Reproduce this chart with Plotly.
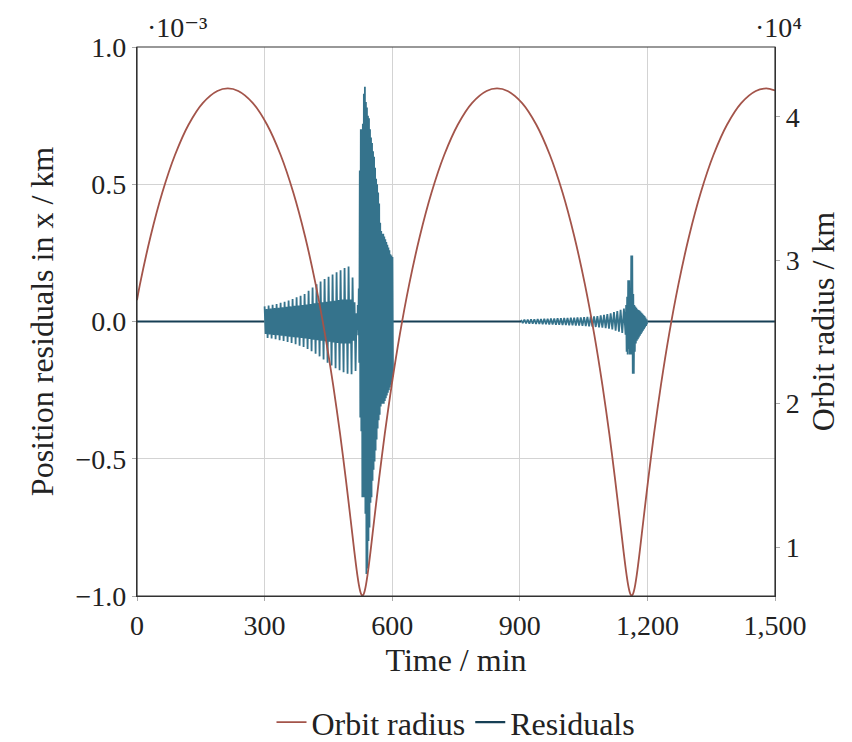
import plotly.graph_objects as go

# ---------------- data ----------------
# Orbit radius (km)
orbit_t = [0, 6.92, 31.81, 59.35, 89.26, 121.14, 154.53, 188.90, 213.5,
           238.1, 272.47, 305.86, 337.74, 367.65, 395.19, 420.08, 442.12, 461.22,
           477.46, 490.97, 502.02, 510.96, 514.79, 518.26, 521.45, 524.42, 527.25, 530,
           532.75, 535.58, 538.55, 541.74, 545.21, 549.04, 557.98, 569.03, 582.54,
           598.78, 617.88, 639.92, 664.81, 692.35, 722.26, 754.14, 787.53, 821.90, 846.5,
           871.1, 905.47, 938.86, 970.74, 1000.65, 1028.19, 1053.08, 1075.12, 1094.22,
           1110.46, 1123.97, 1135.02, 1143.96, 1147.79, 1151.26, 1154.45, 1157.42, 1160.25, 1163,
           1165.75, 1168.58, 1171.55, 1174.74, 1178.21, 1182.04, 1190.98, 1202.03, 1215.54,
           1231.78, 1250.88, 1272.92, 1297.81, 1325.35, 1355.26, 1387.14, 1420.53, 1454.90,
           1479.5, 1500]
orbit_r = [27220, 28319, 31661, 34711, 37345, 39459, 40968, 41813, 41990,
           41813, 40968, 39459, 37345, 34711, 31661, 28319, 24817, 21293,
           17889, 14742, 11975, 9700, 8775, 8005, 7400, 6962, 6697, 6610,
           6697, 6962, 7400, 8005, 8775, 9700, 11975, 14742, 17889,
           21293, 24817, 28319, 31661, 34711, 37345, 39459, 40968, 41813, 41990,
           41813, 40968, 39459, 37345, 34711, 31661, 28319, 24817, 21293,
           17889, 14742, 11975, 9700, 8775, 8005, 7400, 6962, 6697, 6610,
           6697, 6962, 7400, 8005, 8775, 9700, 11975, 14742, 17889,
           21293, 24817, 28319, 31661, 34711, 37345, 39459, 40968, 41813,
           41990, 41845]

# Residuals (units of 1e-3 km), sampled bursts: (start time, sample step, values)
burst1_start, burst1_step = 300.0, 2.35
burst1_vals = [
    0.055, -0.045, 0.045, -0.060, 0.058, -0.047, 0.047, -0.062,
    0.061, -0.049, 0.049, -0.065, 0.064, -0.050, 0.050, -0.068,
    0.068, -0.052, 0.052, -0.071, 0.072, -0.054, 0.054, -0.075,
    0.076, -0.055, 0.055, -0.078, 0.082, -0.057, 0.057, -0.083,
    0.088, -0.058, 0.058, -0.088, 0.094, -0.060, 0.060, -0.093,
    0.100, -0.062, 0.062, -0.100, 0.112, -0.064, 0.064, -0.108,
    0.124, -0.066, 0.066, -0.117, 0.136, -0.068, 0.068, -0.127,
    0.146, -0.070, 0.070, -0.138, 0.155, -0.072, 0.072, -0.150,
    0.163, -0.074, 0.074, -0.160, 0.171, -0.076, 0.076, -0.170,
    0.179, -0.078, 0.078, -0.178, 0.187, -0.080, 0.080, -0.185,
    0.195, -0.080, 0.080, -0.190, 0.200, -0.080, 0.080, -0.192,
    0.160, -0.070, 0.070, -0.180, 0.030, -0.030]

burst2_start, burst2_step = 519.0, 1.2
burst2_vals = [
    0.06, -0.05, 0.12, -0.15, 0.55, -0.35, 0.70, -0.40, 0.70, -0.64,
    0.72, -0.64, 0.83, -0.64, 0.855, -0.70, 0.80, -0.92, 0.78, -0.90,
    0.75, -0.80, 0.74, -0.75, 0.70, -0.66, 0.67, -0.64, 0.65, -0.58,
    0.62, -0.54, 0.60, -0.51, 0.56, -0.47, 0.52, -0.43, 0.50, -0.39,
    0.47, -0.36, 0.43, -0.34, 0.36, -0.31, 0.33, -0.30, 0.32, -0.30,
    0.32, -0.30, 0.31, -0.29, 0.30, -0.28, 0.29, -0.27, 0.28, -0.26,
    0.27, -0.25, 0.26, -0.24, 0.245, -0.23, 0.24, -0.22, 0.235, -0.20]

burst3_start, burst3_step = 903.0, 3.9
burst3_vals = [
    0.006, -0.006, 0.007, -0.007, 0.007, -0.008, 0.008, -0.008,
    0.008, -0.009, 0.009, -0.009, 0.009, -0.010, 0.010, -0.010,
    0.010, -0.011, 0.011, -0.011, 0.011, -0.012, 0.012, -0.012,
    0.012, -0.013, 0.013, -0.013, 0.013, -0.014, 0.014, -0.014,
    0.014, -0.015, 0.015, -0.015, 0.015, -0.016, 0.016, -0.017,
    0.017, -0.018, 0.018, -0.019, 0.019, -0.020, 0.020, -0.021,
    0.022, -0.022, 0.024, -0.024, 0.027, -0.026, 0.030, -0.029,
    0.034, -0.033, 0.038, -0.037, 0.043, -0.042, 0.047, -0.048]

burst4_start, burst4_step = 1150.0, 1.2
burst4_vals = [
    0.060, -0.110, 0.090, -0.120, 0.150, -0.100, 0.150, -0.120,
    0.120, -0.120, 0.240, -0.120, 0.240, -0.190, 0.100, -0.190,
    0.060, -0.110, 0.055, -0.080, 0.050, -0.070, 0.045, -0.065,
    0.042, -0.058, 0.040, -0.052, 0.036, -0.046, 0.032, -0.040,
    0.028, -0.034, 0.024, -0.028, 0.020, -0.022, 0.014, -0.016,
    0.008, -0.010]

# quiet (near-zero) stretches of the residuals
quiet_t = [0, 300, None, 601, 903, None, 1199.5, 1500]
quiet_v = [0, 0, None, 0, 0, None, 0, 0]

x_ticks = [0, 300, 600, 900, 1200, 1500]
x_ticktext = ["0", "300", "600", "900", "1,200", "1,500"]
y_ticks = [-1.0, -0.5, 0.0, 0.5, 1.0]
y_ticktext = ["\u22121.0", "\u22120.5", "0.0", "0.5", "1.0"]
r_ticks = [10000, 20000, 30000, 40000]
r_ticktext = ["1", "2", "3", "4"]

# ---------------- build ----------------
def segment(start, step, vals):
    return [start + step * i for i in range(len(vals))], list(vals)

bx, by = [], []
for i, (s, st, v) in enumerate([(burst1_start, burst1_step, burst1_vals),
                                 (burst2_start, burst2_step, burst2_vals),
                                 (burst3_start, burst3_step, burst3_vals),
                                 (burst4_start, burst4_step, burst4_vals)]):
    xs, ys = segment(s, st, v)
    if i == 2:
        bx.append(None); by.append(None)
    bx += xs; by += ys

FONT = "Liberation Serif, DejaVu Serif, serif"
RED = "#a3544a"
DARK = "#163f55"
BLUE = "#35738c"
TXT = "#222222"

fig = go.Figure()
fig.add_trace(go.Scatter(x=orbit_t, y=orbit_r, name="Orbit radius", yaxis="y2",
                         mode="lines", line=dict(color=RED, width=1.8, shape="spline",
                                                 smoothing=0.8)))
fig.add_trace(go.Scatter(x=quiet_t, y=quiet_v, name="Residuals", mode="lines",
                         line=dict(color=DARK, width=2.2), connectgaps=False))
fig.add_trace(go.Scatter(x=bx, y=by, name="Residuals", mode="lines", showlegend=False,
                         line=dict(color=BLUE, width=1.8), connectgaps=False))

axis_common = dict(showline=True, linecolor="#333", linewidth=1.2, mirror=False,
                   ticks="outside", ticklen=4, tickcolor="#aaa", automargin=False,
                   tickfont=dict(family=FONT, size=28, color=TXT))

fig.update_layout(
    width=844, height=734,
    margin=dict(l=129, r=77, t=39, b=146, autoexpand=False),
    paper_bgcolor="white", plot_bgcolor="white",
    font=dict(family=FONT, size=28, color=TXT),
    xaxis=dict(range=[0, 1500], tickvals=x_ticks, ticktext=x_ticktext,
               showgrid=True, gridcolor="#d3d3d3", gridwidth=1, zeroline=False,
               title=dict(text="Time / min", font=dict(family=FONT, size=32, color=TXT),
                          standoff=8),
               **axis_common),
    yaxis=dict(range=[-1, 1], tickvals=y_ticks, ticktext=y_ticktext,
               showgrid=True, gridcolor="#d3d3d3", gridwidth=1, zeroline=False,
               title=dict(text="Position residuals in x / km",
                          font=dict(family=FONT, size=32, color=TXT), standoff=12),
               **axis_common),
    yaxis2=dict(range=[6585, 44880], tickvals=r_ticks, ticktext=r_ticktext,
                overlaying="y", side="right", showgrid=False, zeroline=False,
                title=dict(text="Orbit radius / km", font=dict(family=FONT, size=32, color=TXT),
                           standoff=12),
                **axis_common),
    showlegend=True,
    legend=dict(orientation="h", x=0.5, xanchor="center", y=-0.23, yanchor="middle",
                font=dict(family=FONT, size=32, color=TXT), itemwidth=30,
                bgcolor="rgba(0,0,0,0)", tracegroupgap=0),
    annotations=[
        dict(text="\u00b710\u207b\u00b3", xref="paper", yref="paper", x=0.012, y=1.004,
             xanchor="left", yanchor="bottom", showarrow=False,
             font=dict(family=FONT, size=28, color=TXT)),
        dict(text="\u00b710\u2074", xref="paper", yref="paper", x=0.965, y=1.004,
             xanchor="left", yanchor="bottom", showarrow=False,
             font=dict(family=FONT, size=28, color=TXT)),
    ],
)
# top and right frame lines
fig.add_shape(type="rect", xref="paper", yref="paper", x0=0, y0=0, x1=1, y1=1,
              line=dict(color="#333", width=1.2), layer="above")

fig.write_html("out.html")
